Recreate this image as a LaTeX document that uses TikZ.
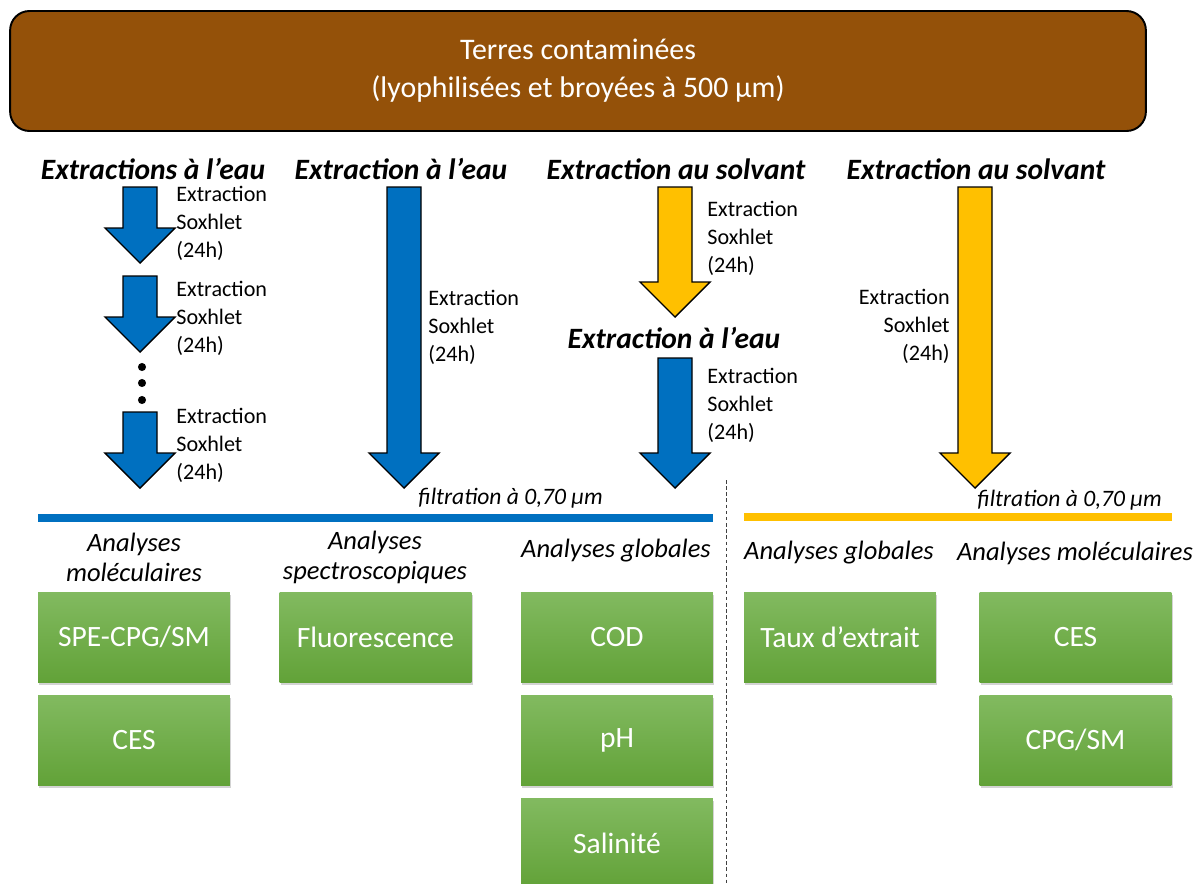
\documentclass[tikz,border=0pt]{standalone}
\usepackage{fontspec}
\setmainfont{Carlito}
\usetikzlibrary{shadows}
\definecolor{brun}{RGB}{148,81,9}
\definecolor{bleu}{RGB}{0,112,192}
\definecolor{jaune}{RGB}{255,192,0}
\definecolor{vertclair}{RGB}{130,186,96}
\definecolor{vertfonce}{RGB}{98,162,56}

\begin{document}
\begin{tikzpicture}[x=0.02cm, y=-0.02cm,
    terre/.style={draw=black, line width=1.1pt, fill=brun, rounded corners=11pt, minimum width=22.72cm, minimum height=2.4cm, align=center, text=white, font=\fontsize{17}{21.5}\selectfont},
    titre/.style={font=\fontsize{16.8}{20}\bfseries\itshape\selectfont, inner sep=0pt},
    etape/.style={font=\fontsize{12.6}{15.9}\selectfont, align=left, inner sep=0pt},
    filtre/.style={font=\fontsize{13.4}{15}\itshape\selectfont, inner sep=0pt, anchor=east},
    analyse/.style={font=\fontsize{15.1}{17}\itshape\selectfont, align=center, inner sep=0pt},
    boite/.style={minimum width=3.84cm, minimum height=1.8cm, top color=vertclair, bottom color=vertfonce, text=white, font=\fontsize{16.8}{20}\selectfont, drop shadow={opacity=0.35, shadow xshift=0.6pt, shadow yshift=-1.5pt}},
    fleche/.style={draw=black, line width=0.8pt, line join=miter},
    trait/.style={line width=4pt}
]
\useasboundingbox (0,0) rectangle (1197,883);

\node[terre] (terres) at (578,71) {Terres contaminées\\(lyophilisées et broyées à 500 µm)};

% titres des extractions
\node[titre] (t1) at (153,169) {Extractions à l’eau};
\node[titre] (t2) at (401,169) {Extraction à l’eau};
\node[titre] (t3) at (676,169) {Extraction au solvant};
\node[titre] (t3b) at (674,338) {Extraction à l’eau};
\node[titre] (t4) at (976,169) {Extraction au solvant};

% fleches
\foreach \cx/\yh/\yp/\col in {140/187/263/bleu, 140/276/352/bleu, 140/412/488/bleu, 404/187/488/bleu, 675/187/317/jaune, 675/358/488/bleu, 975/187/488/jaune}
  \draw[fleche, fill=\col] (\cx-17,\yh) -- (\cx+17,\yh) -- (\cx+17,\yp-35) -- (\cx+35,\yp-35) -- (\cx,\yp) -- (\cx-35,\yp-35) -- (\cx-17,\yp-35) -- cycle;
\foreach \yd in {367,383,400}
  \fill (142,\yd) circle (2.3pt);

\node[etape, anchor=west] (sox1) at (176,223) {Extraction\\Soxhlet\\(24h)};
\node[etape, anchor=west] (sox2) at (176,318) {Extraction\\Soxhlet\\(24h)};
\node[etape, anchor=west] (sox3) at (176,445) {Extraction\\Soxhlet\\(24h)};
\node[etape, anchor=west] (sox4) at (428,327) {Extraction\\Soxhlet\\(24h)};
\node[etape, anchor=west] (sox5) at (707,238) {Extraction\\Soxhlet\\(24h)};
\node[etape, anchor=west] (sox6) at (707,405) {Extraction\\Soxhlet\\(24h)};
\node[etape, anchor=east, align=right] (sox7) at (950,326) {Extraction\\Soxhlet\\(24h)};

% filtration
\node[filtre] (f1) at (603,498) {filtration à 0,70 µm};
\node[filtre] (f2) at (1162,500) {filtration à 0,70 µm};
\draw[trait, bleu] (38,518) -- (713,518);
\draw[trait, jaune] (744,517) -- (1172,517);
\draw[black!75, line width=0.5pt, dash pattern=on 2pt off 1.5pt] (726,480) -- (726,883);

% analyses
\node[analyse] (a1) at (134,557) {Analyses\\moléculaires};
\node[analyse] (a2) at (375,557) {Analyses\\spectroscopiques};
\node[analyse] (a3) at (616,551) {Analyses globales};
\node[analyse] (a4) at (839,553) {Analyses globales};
\node[analyse] (a5) at (1075,553) {Analyses moléculaires};

\node[boite] (spe) at (134,637) {SPE-CPG/SM};
\node[boite] (cesa) at (134,740) {CES};
\node[boite] (fluo) at (375.5,637) {Fluorescence};
\node[boite] (cod) at (617,637) {COD};
\node[boite] (ph) at (617,740) {pH};
\node[boite] (sal) at (617,843) {Salinité};
\node[boite] (taux) at (840,637) {Taux d’extrait};
\node[boite] (cesb) at (1075.5,637) {CES};
\node[boite] (cpg) at (1075.5,740) {CPG/SM};
\end{tikzpicture}
\end{document}
